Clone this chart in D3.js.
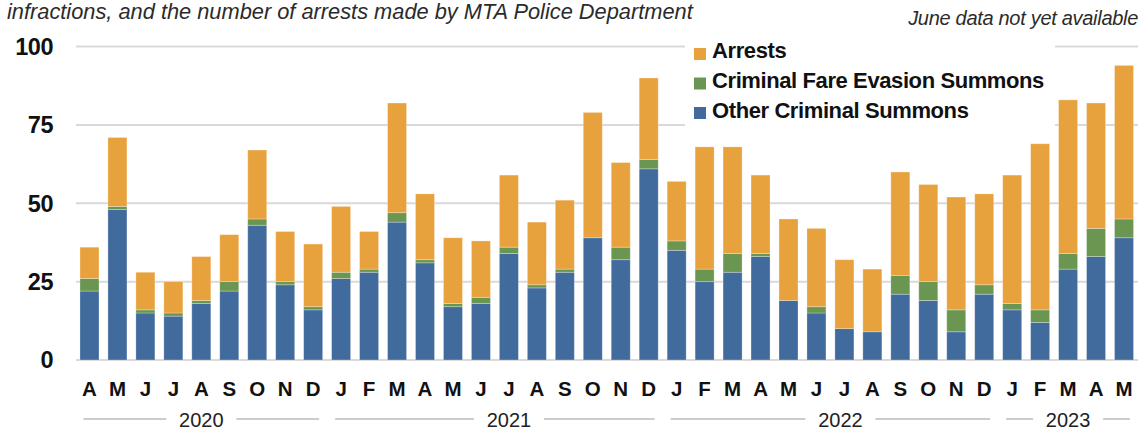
<!DOCTYPE html>
<html>
<head>
<meta charset="utf-8">
<script src="https://cdn.jsdelivr.net/npm/d3@7"></script>
<style>
  html, body { margin: 0; padding: 0; background: #fff; }
  svg { display: block; }
  text { font-family: "Liberation Sans", Arial, Helvetica, sans-serif; }
</style>
</head>
<body>
<svg id="chart" width="1146" height="431"></svg>
<script>
// ---- data ----
const categories = ["2020-04","2020-05","2020-06","2020-07","2020-08","2020-09","2020-10","2020-11","2020-12",
  "2021-01","2021-02","2021-03","2021-04","2021-05","2021-06","2021-07","2021-08","2021-09","2021-10","2021-11","2021-12",
  "2022-01","2022-02","2022-03","2022-04","2022-05","2022-06","2022-07","2022-08","2022-09","2022-10","2022-11","2022-12",
  "2023-01","2023-02","2023-03","2023-04","2023-05"];
const monthLabels = ["A","M","J","J","A","S","O","N","D","J","F","M","A","M","J","J","A","S","O","N","D",
  "J","F","M","A","M","J","J","A","S","O","N","D","J","F","M","A","M"];
const otherSummons = [22,48,15,14,18,22,43,24,16,26,28,44,31,17,18,34,23,28,39,32,61,35,25,28,33,19,15,10,9,21,19,9,21,16,12,29,33,39];
const fareEvasion  = [4,1,1,1,1,3,2,1,1,2,1,3,1,1,2,2,1,1,0,4,3,3,4,6,1,0,2,0,0,6,6,7,3,2,4,5,9,6];
const arrests      = [10,22,12,10,14,15,22,16,20,21,12,35,21,21,18,23,20,22,40,27,26,19,39,34,25,26,25,22,20,33,31,36,29,41,53,49,40,49];
const yTicks = [0,25,50,75,100];
const years = ["2020","2021","2022","2023"];
const yearFirstMonth = ["2020-04","2021-01","2022-01","2023-01"];
const yearLastMonth  = ["2020-12","2021-12","2022-12","2023-05"];
const seriesNames = ["Arrests","Criminal Fare Evasion Summons","Other Criminal Summons"];

// ---- styles ----
const colors = { other: "#416a9d", fare: "#6a9651", arrests: "#e8a23d" };

const svg = d3.select("#chart");

const x = d3.scaleBand().domain(categories).range([75.5, 1138]).paddingInner(0.32).paddingOuter(0.16);
const y = d3.scaleLinear().domain([0, 100]).range([360, 46.6]);

// title line (partially shown) and note
svg.append("text").attr("x", 7).attr("y", 18.5)
  .attr("font-size", 21.8).attr("font-style", "italic").attr("fill", "#2b2b2b")
  .text("infractions, and the number of arrests made by MTA Police Department");
svg.append("text").attr("x", 1138).attr("y", 25).attr("text-anchor", "end")
  .attr("font-size", 20).attr("font-style", "italic").attr("fill", "#2b2b2b").attr("letter-spacing", -0.3)
  .text("June data not yet available");

// gridlines
svg.append("g").selectAll("line").data(yTicks).join("line")
  .attr("x1", 76).attr("x2", 1138)
  .attr("y1", d => y(d)).attr("y2", d => y(d))
  .attr("stroke", "#d9d9d9").attr("stroke-width", 2);

// y labels
svg.append("g").selectAll("text").data(yTicks).join("text")
  .attr("x", 53).attr("y", d => y(d)).attr("dy", "0.36em")
  .attr("text-anchor", "end").attr("font-size", 23.5).attr("font-weight", "bold").attr("fill", "#111")
  .attr("letter-spacing", -0.5)
  .text(d => d);

// legend background (covers gridlines)
svg.append("rect").attr("x", 685).attr("y", 34).attr("width", 370).attr("height", 98).attr("fill", "#fff");

// stacked bars
const rows = categories.map((c, i) => ({ key: c, other: otherSummons[i], fare: fareEvasion[i], arrests: arrests[i] }));
const stack = d3.stack().keys(["other", "fare", "arrests"]);
const layers = stack(rows);

svg.append("g").selectAll("g").data(layers).join("g")
  .attr("fill", d => colors[d.key])
  .selectAll("rect").data(d => d).join("rect")
  .attr("x", d => x(d.data.key))
  .attr("width", x.bandwidth())
  .attr("y", d => y(d[1]))
  .attr("height", d => Math.max(0, y(d[0]) - y(d[1])))
  .attr("stroke", "rgba(255,255,255,0.35)").attr("stroke-width", 0.8);

// month labels
svg.append("g").selectAll("text").data(categories).join("text")
  .attr("x", d => x(d) + x.bandwidth() / 2).attr("y", 395.5)
  .attr("text-anchor", "middle").attr("font-size", 20.5).attr("font-weight", "bold").attr("fill", "#111")
  .text((d, i) => monthLabels[i]);

// year labels with lines
const yearTextShift = [0, 14, 10, 0];
const yearG = svg.append("g");
years.forEach((yr, i) => {
  const x0 = x(yearFirstMonth[i]) - x.step() * 0.16 + 8;
  const x1 = x(yearLastMonth[i]) + x.bandwidth() + x.step() * 0.16 - 8;
  const cx = (x0 + x1) / 2 + yearTextShift[i];
  const half = 25 + 10;
  yearG.append("line").attr("x1", x0).attr("x2", cx - half).attr("y1", 419).attr("y2", 419)
    .attr("stroke", "#9a9a9a").attr("stroke-width", 1);
  yearG.append("line").attr("x1", cx + half).attr("x2", x1).attr("y1", 419).attr("y2", 419)
    .attr("stroke", "#9a9a9a").attr("stroke-width", 1);
  yearG.append("text").attr("x", cx).attr("y", 426.5).attr("text-anchor", "middle")
    .attr("font-size", 20).attr("fill", "#222").text(yr);
});

// legend
const legendKeys = ["arrests", "fare", "other"];
const lg = svg.append("g");
seriesNames.forEach((name, i) => {
  lg.append("rect").attr("x", 694).attr("y", 48 + i * 29.5).attr("width", 12).attr("height", 12)
    .attr("fill", colors[legendKeys[i]]);
  lg.append("text").attr("x", 712).attr("y", 58 + i * 30.2)
    .attr("font-size", 22).attr("font-weight", "bold").attr("fill", "#111").attr("letter-spacing", -0.4)
    .text(name);
});
</script>
</body>
</html>
